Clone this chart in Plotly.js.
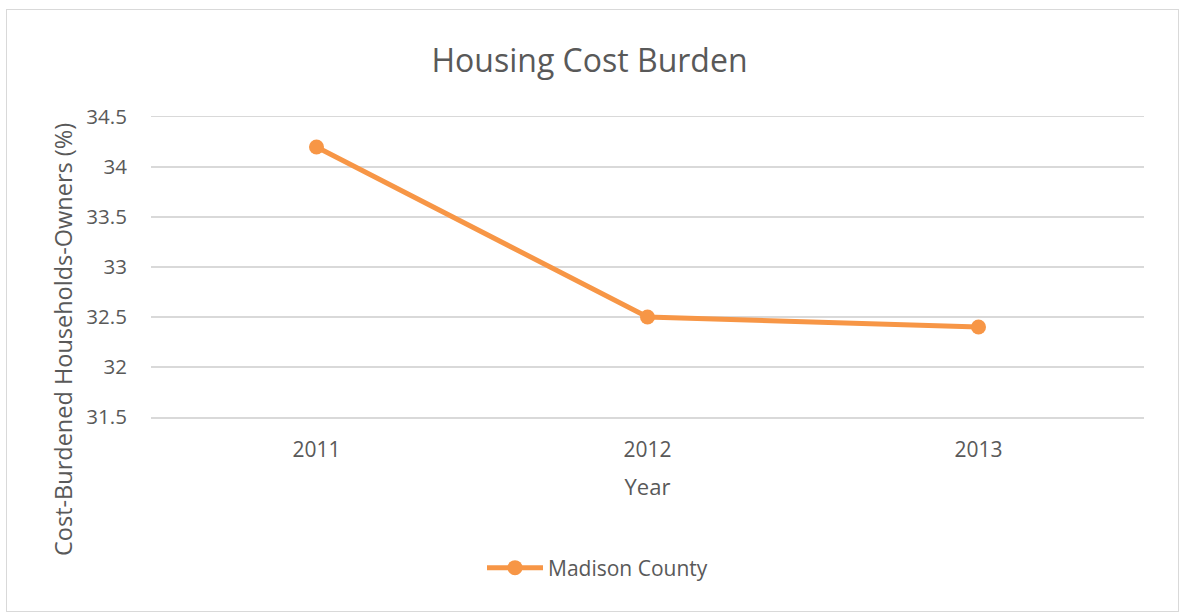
<!DOCTYPE html>
<html>
<head>
<meta charset="utf-8">
<script src="https://cdn.plot.ly/plotly-3.0.1.min.js"></script>
<style>
html,body{margin:0;padding:0;background:#fff;}
#chart{width:1179px;height:612px;position:relative;}
#frame{position:absolute;left:6px;top:9px;width:1171px;height:601px;border:1px solid #d9d9d9;pointer-events:none;}
</style>
</head>
<body>
<div id="chart"></div>
<div id="frame"></div>
<script>
const years = ["2011", "2012", "2013"];
const madisonCounty = [34.2, 32.5, 32.4];
const seriesName = "Madison County";
const yTicks = [31.5, 32, 32.5, 33, 33.5, 34, 34.5];
const yTickLabels = ["31.5", "32", "32.5", "33", "33.5", "34", "34.5"];
const yTitle = "Cost-Burdened Households-Owners (%)";

const font = "Open Sans, Noto Sans, sans-serif";
const grey = "#595959";
const gridGrey = "#d9d9d9";

const trace = {
  x: years,
  y: madisonCounty,
  name: seriesName,
  type: "scatter",
  mode: "lines+markers",
  line: {color: "#F79646", width: 5},
  marker: {color: "#F79646", size: 15}
};

const layout = {
  width: 1179,
  height: 612,
  margin: {l: 151, r: 35, t: 117, b: 195},
  paper_bgcolor: "#fff",
  plot_bgcolor: "#fff",
  font: {family: font, color: grey},
  title: {
    text: "Housing Cost Burden",
    font: {family: font, size: 32, color: grey},
    x: 0.5, xanchor: "center",
    y: 1 - 61/612, yanchor: "middle", yref: "container"
  },
  xaxis: {
    type: "category",
    range: [-0.5, 2.5],
    showgrid: false,
    zeroline: false,
    showline: true,
    mirror: true,
    linecolor: gridGrey,
    linewidth: 1.5,
    ticks: "outside",
    ticklen: 13,
    tickcolor: "rgba(0,0,0,0)",
    tickfont: {family: font, size: 21, color: grey},
    title: {text: "Year", font: {family: font, size: 22, color: grey}, standoff: 18}
  },
  yaxis: {
    range: [31.5, 34.5],
    tickvals: yTicks,
    ticktext: yTickLabels,
    showgrid: true,
    gridcolor: gridGrey,
    gridwidth: 1.5,
    zeroline: false,
    showline: false,
    ticks: "outside",
    ticklen: 19,
    tickcolor: "rgba(0,0,0,0)",
    tickfont: {family: font, size: 20.5, color: grey}
  },
  annotations: [{
    text: yTitle,
    textangle: -90,
    xref: "paper", yref: "paper",
    x: (63 - 151) / 993, y: (417 - 340) / 300,
    xanchor: "center", yanchor: "middle",
    showarrow: false,
    font: {family: font, size: 23.5, color: grey}
  }],
  showlegend: true,
  legend: {
    orientation: "h",
    x: (482 - 151) / 993, xanchor: "left",
    y: (417 - 568) / 300, yanchor: "middle",
    itemwidth: 56,
    font: {family: font, size: 21, color: grey}
  }
};

Plotly.newPlot("chart", [trace], layout, {displayModeBar: false, staticPlot: true});
</script>
</body>
</html>
